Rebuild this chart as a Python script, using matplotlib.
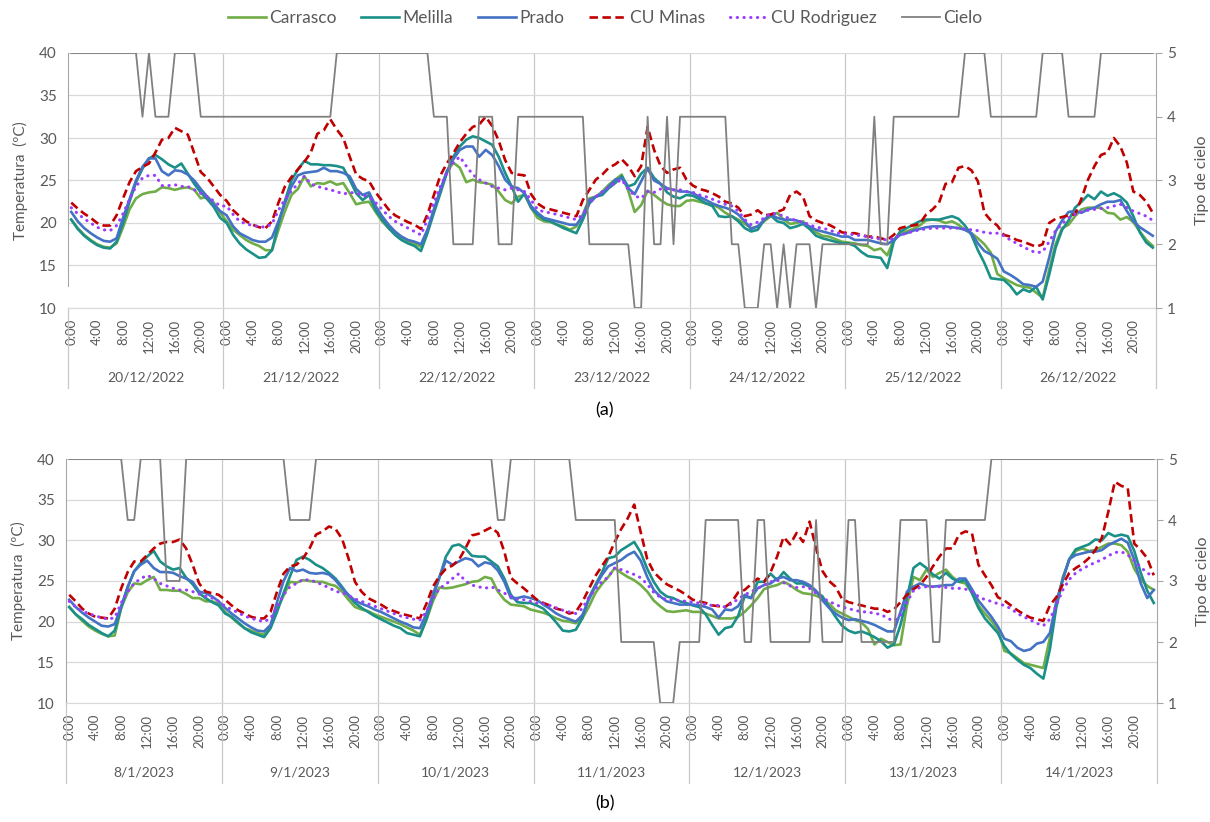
import numpy as np
import matplotlib
matplotlib.use("Agg")
import matplotlib.pyplot as plt
import matplotlib.transforms as mtransforms
from matplotlib.lines import Line2D

plt.rcParams['font.family'] = ['Lato', 'DejaVu Sans']

hour_labels = ["0:00", "4:00", "8:00", "12:00", "16:00", "20:00"]
days_a = ["20/12/2022", "21/12/2022", "22/12/2022", "23/12/2022",
          "24/12/2022", "25/12/2022", "26/12/2022"]
days_b = ["8/1/2023", "9/1/2023", "10/1/2023", "11/1/2023",
          "12/1/2023", "13/1/2023", "14/1/2023"]
names = ["Carrasco", "Melilla", "Prado", "CU Minas", "CU Rodriguez", "Cielo"]

# hourly temperatures (ºC), panel (a): 20/12/2022 - 26/12/2022
carrasco_a = [
    20.4, 19.4, 18.6, 18.0, 17.5, 17.2, 17.1, 17.6, 19.5, 21.6, 22.9, 23.4, 23.6, 23.7, 24.2, 24.1, 23.9, 24.1, 24.2, 23.9, 22.9, 23.1, 22.4, 21.2,
    20.2, 19.2, 18.6, 18.0, 17.6, 17.3, 16.8, 16.8, 19.2, 21.4, 23.3, 24.0, 25.5, 24.3, 24.7, 24.6, 24.9, 24.5, 24.7, 23.5, 22.2, 22.4, 22.5, 21.3,
    20.2, 19.4, 18.8, 18.3, 17.9, 17.6, 17.2, 19.1, 21.5, 23.8, 26.0, 27.1, 26.5, 24.8, 25.1, 24.8, 24.7, 24.5, 23.7, 22.7, 22.3, 23.1, 23.3, 21.8,
    20.6, 20.2, 20.1, 19.8, 19.6, 19.2, 19.6, 21.0, 22.9, 23.1, 23.7, 24.5, 25.1, 25.7, 23.8, 21.3, 22.1, 23.8, 23.3, 22.7, 22.2, 22.0, 22.0, 22.6,
    22.7, 22.5, 22.3, 22.2, 21.8, 21.2, 20.8, 20.4, 19.9, 19.4, 19.6, 20.2, 20.8, 21.2, 20.4, 19.9, 20.0, 20.2, 19.4, 18.9, 18.5, 18.4, 18.1, 17.8,
    17.7, 17.6, 17.4, 17.3, 16.8, 17.0, 16.2, 18.0, 18.9, 19.0, 19.3, 19.7, 20.3, 20.4, 20.3, 20.0, 20.2, 19.8, 19.2, 18.8, 18.2, 17.5, 16.5, 14.0,
    13.5, 13.1, 12.7, 12.5, 12.4, 11.8, 11.2, 14.5, 17.5, 19.4, 19.8, 20.8, 21.6, 21.8, 21.8, 21.8, 21.2, 21.1, 20.4, 20.7, 20.1, 19.0, 18.0, 17.3,
]
melilla_a = [
    20.4, 19.3, 18.5, 17.9, 17.4, 17.1, 17.0, 17.8, 20.0, 22.5, 24.8, 26.4, 27.6, 28.0, 27.5, 26.9, 26.5, 27.0, 25.8, 24.6, 23.6, 22.8, 21.9, 20.6,
    20.0, 18.6, 17.6, 16.9, 16.4, 15.9, 16.0, 16.8, 19.9, 22.6, 25.0, 26.3, 27.3, 26.9, 26.9, 26.8, 26.8, 26.7, 26.5, 25.1, 23.5, 22.7, 23.3, 21.5,
    20.4, 19.4, 18.6, 18.0, 17.6, 17.3, 16.7, 18.8, 21.2, 23.5, 25.9, 27.8, 29.0, 29.8, 30.2, 30.0, 29.6, 29.2, 27.8, 25.9, 24.3, 22.5, 23.5, 21.8,
    21.0, 20.4, 20.2, 19.8, 19.4, 19.1, 18.8, 20.4, 22.3, 23.1, 23.3, 24.1, 24.7, 25.5, 24.3, 24.6, 25.8, 26.5, 25.3, 24.6, 23.6, 23.1, 22.9, 23.3,
    23.2, 22.8, 22.3, 22.0, 20.8, 20.7, 20.8, 20.2, 19.4, 19.0, 19.2, 20.4, 20.9, 20.2, 20.0, 19.4, 19.6, 19.9, 19.3, 18.5, 18.2, 18.0, 17.8, 17.6,
    17.6, 17.3, 16.6, 16.1, 16.0, 15.9, 14.7, 17.8, 19.0, 19.4, 19.8, 20.2, 20.4, 20.4, 20.4, 20.6, 20.8, 20.5, 19.7, 18.6, 16.8, 15.3, 13.5, 13.4,
    13.3, 12.6, 11.6, 12.2, 11.9, 12.5, 11.0, 13.9, 17.1, 19.2, 20.3, 21.8, 22.5, 23.3, 22.8, 23.7, 23.2, 23.5, 23.1, 22.4, 20.8, 18.9, 17.7, 17.1,
]
prado_a = [
    21.3, 20.2, 19.4, 18.8, 18.3, 17.9, 17.8, 18.2, 20.6, 22.8, 25.0, 26.6, 27.6, 27.6, 26.1, 25.6, 26.2, 26.1, 25.7, 25.0, 24.0, 23.1, 22.2, 21.4,
    20.9, 19.6, 18.8, 18.4, 18.0, 17.8, 17.8, 18.3, 20.2, 22.3, 24.3, 25.6, 25.9, 26.0, 26.1, 26.5, 26.1, 26.1, 25.9, 25.5, 24.0, 23.3, 23.6, 22.0,
    20.8, 19.8, 19.0, 18.4, 18.0, 17.8, 17.5, 19.2, 21.6, 23.9, 26.1, 27.5, 28.6, 29.0, 29.0, 27.8, 28.6, 28.0, 26.7, 25.1, 24.3, 24.1, 23.5, 22.0,
    21.2, 20.6, 20.4, 20.2, 20.0, 19.8, 19.8, 20.8, 22.7, 23.1, 23.5, 24.3, 25.1, 25.3, 24.1, 23.4, 24.9, 26.4, 25.0, 24.6, 24.1, 23.9, 23.7, 23.7,
    23.5, 23.1, 22.7, 22.3, 22.0, 21.8, 21.5, 21.0, 20.2, 19.3, 19.6, 20.4, 21.0, 20.6, 20.4, 20.4, 20.3, 20.0, 19.6, 19.2, 19.0, 18.8, 18.6, 18.4,
    18.4, 18.0, 18.0, 18.0, 17.8, 17.6, 17.5, 18.0, 18.6, 18.8, 19.1, 19.3, 19.5, 19.6, 19.6, 19.6, 19.5, 19.4, 19.2, 18.8, 17.6, 16.7, 16.3, 15.8,
    14.3, 13.9, 13.4, 12.8, 12.7, 12.5, 13.1, 15.9, 19.0, 20.3, 21.3, 21.4, 21.2, 21.6, 21.8, 22.2, 22.5, 22.5, 22.7, 21.4, 20.2, 19.5, 19.0, 18.5,
]
minas_a = [
    22.4, 21.7, 21.1, 20.6, 20.0, 19.7, 19.7, 20.9, 22.9, 24.8, 26.1, 26.6, 27.0, 28.3, 29.8, 30.0, 31.2, 30.8, 30.4, 28.2, 26.0, 25.3, 24.3, 23.3,
    22.6, 21.5, 20.8, 20.2, 19.8, 19.5, 19.4, 20.2, 22.4, 24.3, 25.4, 26.3, 27.2, 28.3, 30.5, 30.9, 32.2, 31.0, 30.0, 27.8, 25.7, 25.2, 24.9, 23.6,
    22.6, 21.6, 20.9, 20.5, 20.1, 19.8, 19.3, 21.0, 23.3, 25.6, 27.0, 28.2, 29.5, 30.5, 31.3, 31.6, 32.5, 31.4, 29.7, 27.4, 25.9, 25.7, 25.6, 23.4,
    22.3, 21.8, 21.6, 21.4, 21.2, 21.0, 20.8, 22.7, 23.9, 25.1, 25.7, 26.5, 26.9, 27.5, 26.7, 25.5, 26.7, 31.3, 28.6, 26.7, 25.9, 26.3, 26.5, 25.1,
    24.4, 24.0, 23.8, 23.5, 23.1, 22.5, 22.3, 21.8, 20.8, 21.0, 21.5, 20.9, 21.0, 21.3, 21.6, 23.3, 23.7, 23.1, 20.8, 20.3, 20.0, 19.8, 19.4, 18.9,
    18.8, 18.8, 18.6, 18.4, 18.4, 18.2, 18.0, 18.6, 19.4, 19.6, 19.7, 19.9, 21.0, 21.6, 22.4, 24.6, 24.8, 26.5, 26.7, 26.2, 24.9, 21.2, 20.3, 19.7,
    18.6, 18.4, 18.0, 17.8, 17.5, 17.2, 17.5, 20.0, 20.5, 20.7, 20.9, 21.0, 22.9, 25.1, 26.7, 28.0, 28.3, 30.0, 29.0, 27.1, 23.7, 23.3, 22.5, 21.2,
]
rodriguez_a = [
    21.8, 21.1, 20.5, 20.0, 19.5, 19.2, 19.1, 19.7, 21.1, 22.8, 24.3, 25.3, 25.6, 25.6, 24.4, 24.4, 24.5, 24.3, 24.3, 23.9, 23.5, 23.1, 22.6, 22.0,
    22.0, 21.0, 20.2, 19.9, 19.7, 19.6, 19.5, 19.9, 21.5, 22.8, 23.8, 24.6, 25.5, 24.6, 24.3, 24.1, 23.9, 23.7, 23.4, 23.6, 23.5, 23.3, 23.0, 22.4,
    21.6, 20.8, 20.2, 19.8, 19.4, 19.0, 18.6, 20.4, 22.4, 24.3, 25.9, 27.1, 27.8, 26.7, 25.7, 25.1, 24.7, 24.3, 24.1, 23.9, 24.1, 23.9, 23.7, 22.7,
    21.6, 21.3, 21.2, 21.0, 20.8, 20.6, 20.4, 21.0, 22.3, 23.1, 23.7, 24.2, 24.7, 25.1, 24.0, 23.2, 22.9, 23.7, 23.6, 24.0, 24.0, 23.9, 23.9, 23.7,
    23.6, 23.3, 23.1, 22.8, 22.5, 22.2, 22.0, 21.4, 20.4, 19.8, 20.1, 20.6, 21.1, 21.1, 20.8, 20.5, 20.3, 20.1, 19.8, 19.5, 19.4, 19.2, 18.9, 18.7,
    18.7, 18.6, 18.5, 18.4, 18.2, 18.1, 18.0, 18.2, 18.6, 18.8, 19.0, 19.2, 19.3, 19.4, 19.4, 19.4, 19.4, 19.4, 19.3, 19.2, 19.1, 18.9, 18.8, 18.8,
    18.5, 18.0, 17.6, 17.2, 16.8, 16.5, 16.6, 17.8, 19.1, 19.9, 20.6, 21.0, 21.3, 21.5, 21.6, 21.7, 21.8, 22.0, 22.2, 21.8, 21.4, 21.1, 20.8, 20.3,
]
cielo_a = [
    5, 5, 5, 5, 5, 5, 5, 5, 5, 5, 5, 4, 5, 4, 4, 4, 5, 5, 5, 5, 4, 4, 4, 4,
    4, 4, 4, 4, 4, 4, 4, 4, 4, 4, 4, 4, 4, 4, 4, 4, 4, 5, 5, 5, 5, 5, 5, 5,
    5, 5, 5, 5, 5, 5, 5, 5, 4, 4, 4, 2, 2, 2, 2, 4, 4, 4, 2, 2, 2, 4, 4, 4,
    4, 4, 4, 4, 4, 4, 4, 4, 2, 2, 2, 2, 2, 2, 2, 1, 1, 4, 2, 2, 4, 2, 4, 4,
    4, 4, 4, 4, 4, 4, 2, 2, 1, 1, 1, 2, 2, 1, 2, 1, 2, 2, 2, 1, 2, 2, 2, 2,
    2, 2, 2, 2, 4, 2, 2, 4, 4, 4, 4, 4, 4, 4, 4, 4, 4, 4, 5, 5, 5, 5, 4, 4,
    4, 4, 4, 4, 4, 4, 5, 5, 5, 5, 4, 4, 4, 4, 4, 5, 5, 5, 5, 5, 5, 5, 5, 5,
]

# hourly temperatures (ºC), panel (b): 8/1/2023 - 14/1/2023
carrasco_b = [
    21.8, 20.9, 20.1, 19.4, 18.9, 18.5, 18.2, 18.3, 21.7, 23.6, 24.7, 24.6, 25.1, 25.5, 23.9, 23.9, 23.8, 23.8, 23.4, 22.9, 22.9, 22.5, 22.5, 22.2,
    21.2, 20.5, 19.8, 19.2, 18.9, 18.6, 18.4, 19.4, 21.5, 23.2, 24.9, 24.8, 25.1, 25.0, 24.9, 24.9, 24.6, 24.4, 23.7, 22.7, 21.8, 21.5, 21.3, 20.9,
    20.6, 20.3, 20.0, 19.7, 19.3, 18.9, 18.4, 20.2, 22.5, 24.2, 24.1, 24.2, 24.4, 24.6, 24.9, 25.0, 25.5, 25.3, 23.7, 22.7, 22.1, 22.0, 21.9, 21.5,
    21.3, 21.1, 20.8, 20.4, 20.1, 20.0, 19.8, 20.4, 21.8, 23.5, 24.6, 25.5, 26.6, 26.0, 25.5, 25.1, 24.5, 23.7, 22.6, 21.9, 21.3, 21.2, 21.3, 21.4,
    21.2, 21.2, 21.0, 20.7, 20.4, 20.4, 20.4, 20.6, 21.2, 22.0, 22.9, 24.0, 24.3, 24.5, 24.9, 24.5, 23.9, 23.5, 23.4, 23.2, 22.8, 22.2, 21.4, 21.0,
    20.6, 20.2, 19.9, 19.1, 17.2, 17.9, 17.5, 17.1, 17.2, 22.0, 25.5, 25.1, 26.4, 25.5, 26.0, 26.4, 25.5, 24.9, 24.7, 23.6, 22.0, 21.0, 20.1, 19.0,
    16.4, 16.1, 15.5, 14.9, 14.7, 14.5, 14.3, 18.0, 22.0, 25.5, 27.6, 28.7, 29.0, 28.7, 28.8, 29.2, 29.6, 29.6, 29.4, 28.6, 26.5, 25.2, 24.4, 23.9,
]
melilla_b = [
    21.8, 20.9, 20.3, 19.6, 19.1, 18.6, 18.2, 18.9, 21.7, 24.2, 26.2, 27.2, 28.0, 28.7, 27.4, 26.8, 26.4, 26.6, 25.4, 24.6, 23.5, 22.9, 22.4, 22.0,
    21.0, 20.6, 19.9, 19.2, 18.7, 18.4, 18.1, 19.2, 21.2, 23.5, 25.6, 27.6, 28.0, 27.6, 27.0, 26.6, 26.0, 25.3, 24.3, 23.2, 22.3, 21.7, 21.2, 20.7,
    20.3, 19.9, 19.5, 19.2, 18.6, 18.4, 18.2, 20.3, 23.0, 25.4, 28.0, 29.3, 29.5, 29.0, 28.1, 28.0, 28.0, 27.4, 26.8, 25.3, 23.3, 22.4, 22.3, 22.3,
    22.0, 21.6, 20.8, 19.9, 18.9, 18.8, 19.0, 20.4, 22.9, 24.5, 26.0, 27.8, 28.0, 28.8, 29.3, 29.8, 28.5, 26.5, 24.9, 23.7, 23.1, 22.9, 22.5, 22.3,
    22.0, 21.8, 20.9, 19.6, 18.4, 19.2, 19.4, 20.7, 23.1, 22.9, 24.9, 24.9, 25.9, 25.1, 26.1, 25.3, 24.7, 24.7, 24.3, 23.7, 23.1, 21.8, 20.6, 19.5,
    18.9, 18.6, 18.8, 18.5, 18.1, 17.6, 16.8, 17.2, 19.6, 22.9, 26.6, 27.2, 26.6, 25.8, 25.3, 26.0, 25.3, 24.9, 25.1, 23.5, 21.7, 20.4, 19.5, 18.6,
    17.0, 16.0, 15.3, 14.7, 14.3, 13.6, 13.0, 16.6, 21.8, 25.2, 27.7, 28.9, 29.2, 29.5, 30.1, 30.0, 30.9, 30.5, 30.7, 30.5, 28.7, 26.0, 23.8, 22.3,
]
prado_b = [
    22.7, 21.8, 21.1, 20.5, 20.0, 19.5, 19.4, 19.7, 21.9, 24.3, 26.2, 27.0, 27.5, 26.6, 26.1, 26.1, 26.0, 25.6, 25.3, 24.9, 23.7, 23.5, 23.1, 22.5,
    21.7, 21.0, 20.4, 19.8, 19.3, 18.9, 18.8, 19.6, 22.4, 25.0, 26.6, 26.2, 26.4, 26.0, 25.9, 26.0, 25.8, 25.1, 24.1, 23.3, 22.6, 22.2, 21.9, 21.5,
    21.2, 20.8, 20.4, 20.0, 19.7, 19.3, 19.2, 21.0, 23.4, 25.5, 27.5, 27.0, 27.4, 27.8, 27.6, 26.8, 27.3, 27.1, 26.3, 24.9, 22.9, 22.9, 23.1, 22.9,
    22.7, 22.1, 21.6, 21.0, 20.6, 20.3, 20.0, 20.8, 22.7, 24.3, 25.7, 26.8, 27.2, 27.6, 28.2, 28.6, 27.5, 25.5, 23.9, 23.1, 22.5, 22.3, 22.1, 22.1,
    22.1, 22.0, 21.8, 21.5, 20.5, 21.5, 21.4, 21.9, 23.3, 22.9, 24.1, 24.5, 24.7, 25.3, 25.5, 25.1, 25.1, 24.9, 24.5, 23.8, 22.6, 21.7, 21.0, 20.5,
    20.2, 20.3, 20.1, 19.9, 19.6, 19.2, 18.8, 18.8, 21.2, 23.7, 24.3, 24.7, 24.4, 24.3, 24.4, 24.5, 24.5, 25.3, 25.3, 24.0, 22.6, 21.6, 20.6, 19.4,
    17.9, 17.6, 16.8, 16.4, 16.6, 17.3, 17.5, 18.6, 22.5, 25.2, 27.7, 28.2, 28.4, 28.6, 28.6, 28.8, 29.4, 29.8, 30.2, 29.7, 27.6, 24.7, 22.9, 23.9,
]
minas_b = [
    23.3, 22.5, 21.6, 21.0, 20.6, 20.5, 20.4, 21.6, 24.1, 26.1, 27.4, 27.4, 28.2, 29.0, 29.6, 29.8, 29.8, 30.1, 29.0, 27.0, 24.7, 23.7, 23.5, 23.3,
    22.7, 22.0, 21.4, 21.0, 20.6, 20.4, 20.4, 21.2, 23.7, 25.9, 26.8, 27.0, 27.8, 29.0, 30.7, 31.1, 31.7, 31.4, 30.2, 27.8, 24.9, 23.7, 22.9, 22.5,
    22.1, 21.6, 21.3, 21.0, 20.8, 20.6, 20.4, 22.2, 24.3, 25.6, 26.5, 26.9, 27.6, 29.0, 30.6, 30.8, 31.2, 31.6, 30.9, 28.6, 25.4, 24.7, 24.1, 23.4,
    22.7, 22.3, 22.0, 21.6, 21.4, 21.0, 21.2, 22.4, 24.0, 25.6, 26.8, 28.0, 29.8, 31.4, 32.7, 34.4, 31.0, 27.7, 26.1, 25.3, 24.6, 24.2, 23.8, 23.3,
    22.7, 22.5, 22.3, 22.0, 21.9, 21.8, 22.4, 23.6, 23.9, 24.6, 25.3, 24.9, 26.1, 28.0, 30.4, 29.5, 30.9, 29.8, 32.3, 29.0, 26.2, 25.0, 24.3, 22.8,
    22.4, 22.2, 22.0, 21.8, 21.6, 21.6, 21.2, 21.5, 22.4, 23.3, 24.0, 24.5, 25.5, 26.8, 28.0, 29.0, 29.0, 30.7, 31.1, 30.9, 27.0, 25.7, 24.5, 23.0,
    22.6, 22.0, 21.4, 20.9, 20.5, 20.3, 20.1, 22.0, 23.0, 24.6, 26.0, 26.6, 27.1, 27.8, 28.8, 30.3, 33.5, 37.2, 36.7, 36.4, 29.6, 28.8, 27.8, 25.7,
]
rodriguez_b = [
    22.5, 21.8, 21.3, 21.0, 20.7, 20.5, 20.3, 20.5, 22.3, 23.7, 24.7, 25.3, 25.7, 25.3, 24.7, 24.4, 24.1, 23.9, 23.9, 23.7, 23.4, 23.1, 22.9, 22.5,
    21.9, 21.5, 21.1, 20.7, 20.4, 20.2, 20.0, 20.4, 21.8, 23.3, 24.3, 24.7, 25.2, 25.1, 24.9, 24.5, 24.2, 23.7, 23.6, 23.2, 22.8, 22.5, 22.2, 21.9,
    21.6, 21.3, 21.0, 20.7, 20.5, 20.3, 20.2, 21.2, 22.8, 24.1, 24.6, 25.3, 25.9, 25.0, 24.5, 24.3, 24.1, 24.3, 23.9, 23.5, 23.1, 22.7, 22.7, 22.5,
    22.3, 22.2, 22.0, 21.7, 21.4, 21.2, 21.0, 21.6, 23.0, 24.0, 24.9, 25.5, 26.6, 26.4, 26.1, 25.8, 25.4, 24.6, 23.6, 23.0, 22.7, 22.7, 22.6, 22.5,
    22.4, 22.3, 22.1, 22.0, 22.0, 21.8, 22.2, 22.8, 23.3, 23.7, 24.1, 24.5, 24.9, 25.1, 24.8, 24.4, 24.2, 24.3, 24.1, 23.5, 22.9, 22.5, 22.1, 21.8,
    21.6, 21.4, 21.2, 21.2, 21.0, 20.9, 20.4, 20.1, 20.8, 22.4, 23.8, 24.2, 24.3, 24.3, 24.3, 24.2, 24.1, 24.1, 24.0, 23.7, 23.1, 22.7, 22.5, 22.2,
    22.0, 21.6, 21.0, 20.6, 20.2, 19.8, 19.5, 20.3, 22.0, 23.9, 25.2, 26.0, 26.5, 26.9, 27.3, 27.6, 28.1, 28.5, 28.6, 28.2, 27.5, 26.7, 26.0, 25.5,
]
cielo_b = [
    5, 5, 5, 5, 5, 5, 5, 5, 5, 4, 4, 5, 5, 5, 5, 3, 3, 3, 5, 5, 5, 5, 5, 5,
    5, 5, 5, 5, 5, 5, 5, 5, 5, 5, 4, 4, 4, 4, 5, 5, 5, 5, 5, 5, 5, 5, 5, 5,
    5, 5, 5, 5, 5, 5, 5, 5, 5, 5, 5, 5, 5, 5, 5, 5, 5, 5, 4, 4, 5, 5, 5, 5,
    5, 5, 5, 5, 5, 5, 4, 4, 4, 4, 4, 4, 4, 2, 2, 2, 2, 2, 2, 1, 1, 1, 2, 2,
    2, 2, 4, 4, 4, 4, 4, 4, 2, 2, 4, 4, 2, 2, 2, 2, 2, 2, 2, 4, 2, 2, 2, 2,
    4, 4, 2, 2, 2, 2, 2, 2, 4, 4, 4, 4, 4, 2, 2, 4, 4, 4, 4, 4, 4, 4, 5, 5,
    5, 5, 5, 5, 5, 5, 5, 5, 5, 5, 5, 5, 5, 5, 5, 5, 5, 5, 5, 5, 5, 5, 5, 5,
]

TXT = '#595959'
styles = [
    dict(color='#70AD47', lw=1.9, ls='-'),
    dict(color='#1A9088', lw=1.9, ls='-'),
    dict(color='#4472C4', lw=1.9, ls='-'),
    dict(color='#C00000', lw=1.9, ls=(0, (3.2, 1.7))),
    dict(color='#9B3DFF', lw=2.2, ls=(0, (0.1, 2.1)), dash_capstyle='round'),
    dict(color='#808080', lw=1.3, ls='-'),
]

fig = plt.figure(figsize=(12.1, 8.22), dpi=100)


def panel(rect, temps, cielo, days, tag, tag_y, left_bounds):
    ax = fig.add_axes(rect)
    ax2 = ax.twinx()
    ax.set_zorder(1)
    ax2.set_zorder(2)
    ax.patch.set_visible(False)
    ax2.patch.set_visible(False)
    n = len(cielo)

    ax.set_xlim(-0.5, n - 0.5)
    ax.set_ylim(10, 40)
    ax.set_yticks(range(10, 41, 5))
    ax2.set_ylim(1, 5)
    ax2.set_yticks(range(1, 6))
    ax.grid(axis='y', color='#D9D9D9', lw=0.9)
    ax.set_axisbelow(True)

    for vals, st in zip(temps, styles[:5]):
        ax.plot(np.arange(len(vals)), vals, **st)
    ax2.plot(np.arange(n), cielo, **styles[5])

    # day separators (inside the plot and through the label rows)
    blend = mtransforms.blended_transform_factory(ax.transData, ax.transAxes)
    h_px = rect[3] * fig.get_figheight() * fig.dpi
    sep = 80 / h_px
    for d in range(8):
        x = 24 * d - 0.5
        if 0 < d < 7:
            ax.axvline(x, color='#C8C8C8', lw=0.9, zorder=0)
        ax.plot([x, x], [0, -sep], transform=blend, clip_on=False,
                color='#C8C8C8', lw=0.9)
    for d, lab in enumerate(days):
        ax.text(24 * d + 11.5, -69 / h_px, lab, transform=blend,
                ha='center', va='center', fontsize=10, color=TXT)

    ax.set_xticks(np.arange(0, n, 4))
    ax.set_xticklabels(hour_labels * 7, rotation=90, fontsize=9.5, color=TXT)
    ax.tick_params(axis='x', length=0, pad=8)
    ax.tick_params(axis='y', length=0, labelsize=11, colors=TXT, pad=8)
    ax2.tick_params(axis='y', length=4, labelsize=11, colors=TXT,
                    color='#A6A6A6', pad=4)

    ax.spines['top'].set_visible(False)
    ax2.spines['top'].set_visible(False)
    ax.spines['right'].set_visible(False)
    ax2.spines['left'].set_visible(False)
    ax2.spines['bottom'].set_visible(False)
    ax.spines['bottom'].set_color('#D9D9D9')
    ax.spines['left'].set_color('#A6A6A6')
    ax.spines['left'].set_bounds(*left_bounds)
    ax2.spines['right'].set_color('#A6A6A6')

    ax.set_ylabel('Temperatura  (ºC)', fontsize=11, color=TXT, labelpad=8)
    ax2.set_ylabel('Tipo de cielo', fontsize=11.5, color=TXT,
                   rotation=90, labelpad=14)
    fig.text(0.5, tag_y, tag, ha='center', va='center', fontsize=13,
             color='black')
    return ax, ax2


ax_a, ax2_a = panel([68 / 1210, 1 - 308 / 822, 1088 / 1210, 255 / 822],
                    [carrasco_a, melilla_a, prado_a, minas_a, rodriguez_a],
                    cielo_a, days_a, '(a)', 1 - 410 / 822, (12.6, 40))
ax_b, ax2_b = panel([66 / 1210, 1 - 703 / 822, 1091 / 1210, 244 / 822],
                    [carrasco_b, melilla_b, prado_b, minas_b, rodriguez_b],
                    cielo_b, days_b, '(b)', 1 - 803 / 822, (10, 40))

handles = [Line2D([], [], **st) for st in styles]
fig.legend(handles, names, loc='center', bbox_to_anchor=(0.5, 1 - 18 / 822),
           ncol=6, frameon=False, fontsize=12.5, handlelength=2.2,
           handletextpad=0.2, columnspacing=1.4, labelcolor=TXT)

fig.savefig('out.png', dpi=100)
